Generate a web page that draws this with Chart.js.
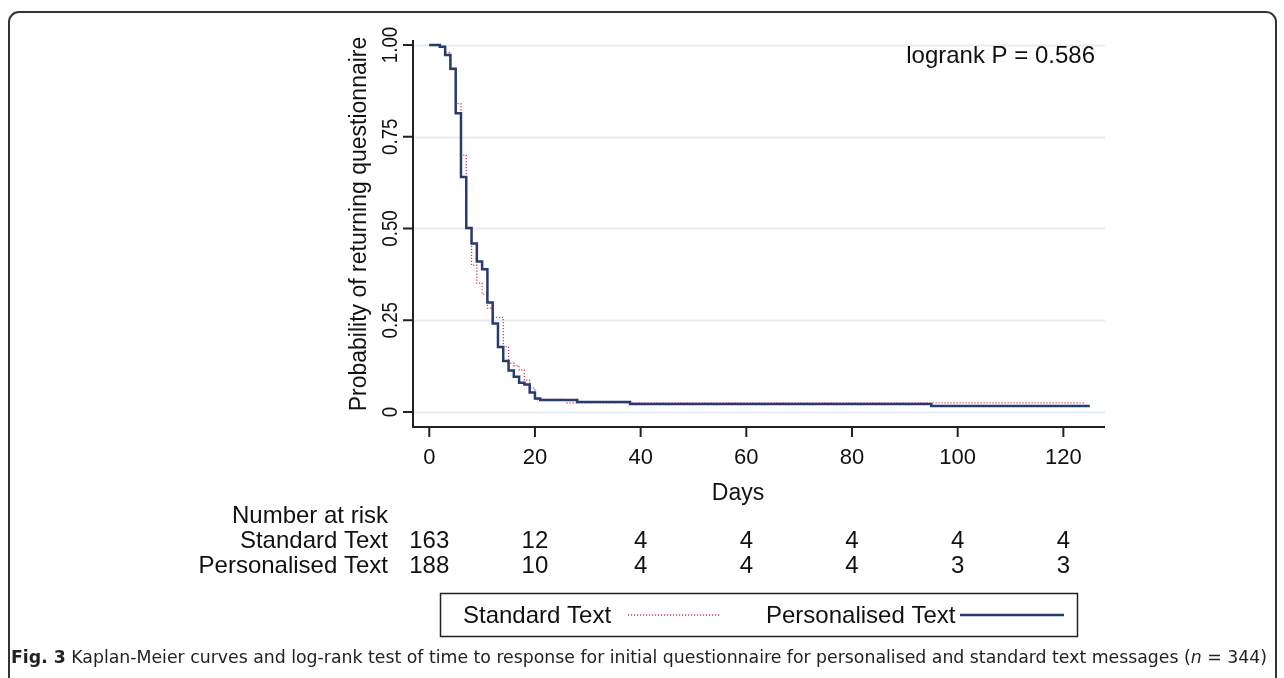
<!DOCTYPE html>
<html>
<head>
<meta charset="utf-8">
<script src="https://cdn.jsdelivr.net/npm/chart.js@4"></script>
<style>
  html, body { margin: 0; padding: 0; background: #fff; }
  body { width: 1284px; height: 678px; position: relative; overflow: hidden; }
  #frame { position: absolute; left: 8px; top: 11px; width: 1269px; height: 720px;
           border: 2px solid #333; border-radius: 11px; box-sizing: border-box; }
  #wrap { position: absolute; left: 0; top: 0; width: 1284px; height: 678px; }
  #caption { position: absolute; left: 11px; top: 647px; white-space: nowrap;
             font-family: "Liberation Sans Narrow", "DejaVu Sans Condensed", "Roboto Condensed", "Liberation Sans", sans-serif;
             font-size: 17px; color: #222; transform-origin: 0 0; line-height: 20px; }
  #caption b { font-weight: bold; }
</style>
</head>
<body>
<div id="frame"></div>
<div id="wrap"><canvas id="c" width="1284" height="678"></canvas></div>
<div id="caption"><b>Fig. 3</b> Kaplan-Meier curves and log-rank test of time to response for initial questionnaire for personalised and standard text messages (<i>n</i> = 344)</div>
<script>
// ---- data ----
const seriesNames = ['Standard Text', 'Personalised Text'];
const standardDays = [0, 2, 3, 4, 5, 6, 7, 8, 9, 10, 11, 12, 14, 15, 16, 17, 18, 19, 20, 26, 124];
const standardSurv = [1, 0.994, 0.979, 0.932, 0.84, 0.70, 0.50, 0.40, 0.351, 0.321, 0.283, 0.258, 0.178, 0.133, 0.126, 0.114, 0.087, 0.065, 0.034, 0.025, 0.025];
const personalisedDays = [0, 2, 3, 4, 5, 6, 7, 8, 9, 10, 11, 12, 13, 14, 15, 16, 17, 18, 19, 20, 21, 28, 38, 95, 125];
const personalisedSurv = [1, 0.995, 0.973, 0.935, 0.814, 0.640, 0.501, 0.459, 0.410, 0.389, 0.298, 0.241, 0.177, 0.139, 0.113, 0.096, 0.080, 0.075, 0.053, 0.037, 0.033, 0.027, 0.022, 0.016, 0.016];
const xTicks = [0, 20, 40, 60, 80, 100, 120];
const yTicks = [0, 0.25, 0.5, 0.75, 1];
const yTickLabels = ['0', '0.25', '0.50', '0.75', '1.00'];
const riskTimes = [0, 20, 40, 60, 80, 100, 120];
const riskStandard = [163, 12, 4, 4, 4, 4, 4];
const riskPersonalised = [188, 10, 4, 4, 4, 3, 3];
const xTitle = 'Days';
const yTitle = 'Probability of returning questionnaire';
const annotationText = 'logrank P = 0.586';
const riskHeader = 'Number at risk';

const toPoints = (xs, ys) => xs.map((x, i) => ({ x: x, y: ys[i] }));

const FONT = '"Liberation Sans", Arial, sans-serif';
const TXT = '#111';
const BLUE = '#263b6e';
const RED = '#d43a5c';

const decor = {
  id: 'decor',
  beforeDatasetsDraw(chart) {
    const { ctx, chartArea: a, scales: { y } } = chart;
    ctx.save();
    ctx.strokeStyle = '#e6edf2';
    ctx.lineWidth = 2;
    yTicks.forEach(v => {
      const py = Math.round(y.getPixelForValue(v)) + 0.5;
      ctx.beginPath(); ctx.moveTo(a.left, py); ctx.lineTo(a.right, py); ctx.stroke();
    });
    ctx.restore();
  },
  afterDraw(chart) {
    const { ctx, chartArea: a, scales: { x, y } } = chart;
    ctx.save();
    ctx.strokeStyle = '#222';
    ctx.lineWidth = 2;
    ctx.beginPath();
    ctx.moveTo(a.left, a.top); ctx.lineTo(a.left, a.bottom + 1);
    ctx.moveTo(a.left - 1, a.bottom); ctx.lineTo(a.right, a.bottom);
    ctx.stroke();
    ctx.fillStyle = TXT;
    // y ticks (vertical labels)
    ctx.font = '22px ' + FONT;
    yTicks.forEach((v, i) => {
      const py = y.getPixelForValue(v);
      ctx.beginPath(); ctx.moveTo(a.left - 10, py); ctx.lineTo(a.left, py); ctx.stroke();
      ctx.save();
      ctx.translate(a.left - 16, py);
      ctx.rotate(-Math.PI / 2);
      ctx.scale(0.85, 1);
      ctx.textAlign = 'center'; ctx.textBaseline = 'alphabetic';
      ctx.fillText(yTickLabels[i], 0, 0);
      ctx.restore();
    });
    // y title
    ctx.font = '23px ' + FONT;
    ctx.save();
    ctx.translate(a.left - 47, 224);
    ctx.rotate(-Math.PI / 2);
    ctx.textAlign = 'center'; ctx.textBaseline = 'alphabetic';
    ctx.fillText(yTitle, 0, 0);
    ctx.restore();
    // x ticks
    ctx.font = '22px ' + FONT;
    ctx.textAlign = 'center'; ctx.textBaseline = 'alphabetic';
    xTicks.forEach(v => {
      const px = x.getPixelForValue(v);
      ctx.beginPath(); ctx.moveTo(px, a.bottom); ctx.lineTo(px, a.bottom + 10); ctx.stroke();
      ctx.fillText(String(v), px, a.bottom + 37);
    });
    // x title
    ctx.font = '23px ' + FONT;
    ctx.fillText(xTitle, 738, a.bottom + 73);
    // annotation
    ctx.font = '24px ' + FONT;
    ctx.textAlign = 'right';
    ctx.fillText(annotationText, 1095, 63);
    // risk table
    ctx.textAlign = 'right';
    ctx.fillText(riskHeader, 388, 523);
    ctx.fillText(seriesNames[0], 388, 548);
    ctx.fillText(seriesNames[1], 388, 573);
    ctx.textAlign = 'center';
    riskTimes.forEach((t, i) => {
      const px = x.getPixelForValue(t);
      ctx.fillText(String(riskStandard[i]), px, 548);
      ctx.fillText(String(riskPersonalised[i]), px, 573);
    });
    // legend box
    ctx.lineWidth = 1.5;
    ctx.strokeStyle = '#222';
    ctx.strokeRect(440.5, 593.5, 637, 43);
    ctx.textAlign = 'left';
    ctx.fillText(seriesNames[0], 463, 623);
    ctx.fillText(seriesNames[1], 766, 623);
    ctx.strokeStyle = RED; ctx.lineWidth = 1.3; ctx.setLineDash([1.2, 1.8]);
    ctx.beginPath(); ctx.moveTo(628, 615); ctx.lineTo(720, 615); ctx.stroke();
    ctx.setLineDash([]);
    ctx.strokeStyle = BLUE; ctx.lineWidth = 2.5;
    ctx.beginPath(); ctx.moveTo(960, 615); ctx.lineTo(1064, 615); ctx.stroke();
    ctx.restore();
  }
};

new Chart(document.getElementById('c'), {
  type: 'line',
  data: {
    datasets: [
      { label: seriesNames[0], data: toPoints(standardDays, standardSurv), stepped: 'before',
        borderColor: RED, borderWidth: 1.3, borderDash: [1.2, 1.8], pointRadius: 0, fill: false, order: 1 },
      { label: seriesNames[1], data: toPoints(personalisedDays, personalisedSurv), stepped: 'before',
        borderColor: BLUE, borderWidth: 2.5, pointRadius: 0, fill: false, order: 0 }
    ]
  },
  options: {
    responsive: false,
    animation: false,
    events: [],
    layout: { padding: { left: 413, top: 40, right: 1284 - 1105, bottom: 678 - 427 } },
    plugins: { legend: { display: false }, tooltip: { enabled: false }, title: { display: false } },
    scales: {
      x: { type: 'linear', min: -3.08, max: 127.88, display: false },
      y: { type: 'linear', min: -0.0409, max: 1.0136, display: false }
    }
  },
  plugins: [decor]
});

(function () {
  const cap = document.getElementById('caption');
  const w = cap.getBoundingClientRect().width;
  cap.style.transform = 'scaleX(' + (1256 / w) + ')';
})();
</script>
</body>
</html>
